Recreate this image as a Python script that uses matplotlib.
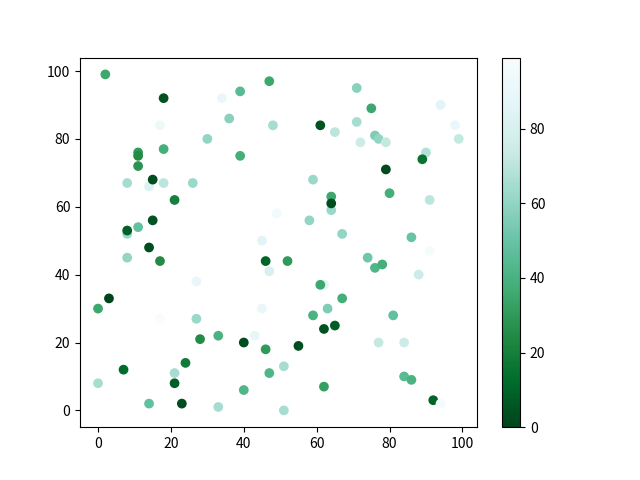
import numpy as np
import matplotlib
matplotlib.use('Agg')
import matplotlib.pyplot as plt

plt.rcParams['font.family'] = ['Noto Sans CJK SC', 'DejaVu Sans']

# point positions and colour values
x = [2, 47, 18, 34, 39, 71, 75, 94, 17, 36,
     48, 61, 71, 65, 98, 99, 30, 11, 11, 11,
     18, 39, 76, 77, 79, 72, 90, 89, 79, 8,
     14, 15, 18, 26, 59, 21, 80, 64, 64, 64,
     91, 8, 8, 11, 15, 49, 58, 67, 86, 8,
     14, 17, 45, 47, 46, 52, 74, 76, 78, 91,
     88, 0, 3, 27, 17, 27, 45, 62, 61, 67,
     28, 33, 43, 40, 46, 59, 63, 65, 62, 55,
     81, 77, 84, 21, 21, 24, 0, 7, 14, 23,
     33, 40, 47, 51, 51, 62, 84, 86, 92, 94]
y = [99, 97, 92, 92, 94, 95, 89, 90, 84, 86,
     84, 84, 85, 82, 84, 80, 80, 76, 75, 72,
     77, 75, 81, 80, 79, 79, 76, 74, 71, 67,
     66, 68, 67, 67, 68, 62, 64, 63, 59, 61,
     62, 52, 53, 54, 56, 58, 56, 52, 51, 45,
     48, 44, 50, 41, 44, 44, 45, 42, 43, 47,
     40, 30, 33, 38, 27, 27, 30, 37, 37, 33,
     21, 22, 22, 20, 18, 28, 30, 25, 24, 19,
     28, 20, 20, 11, 8, 14, 8, 12, 2, 2,
     1, 6, 11, 13, 0, 7, 10, 9, 3, 2]
c = [35, 35, 5, 90, 45, 58, 35, 85, 92, 58,
     65, 5, 65, 70, 90, 72, 60, 30, 25, 28,
     38, 38, 55, 60, 72, 75, 68, 15, 2, 65,
     82, 3, 70, 62, 62, 20, 38, 35, 62, 3,
     70, 62, 8, 48, 5, 95, 60, 60, 50, 60,
     3, 25, 85, 80, 10, 30, 52, 42, 38, 97,
     75, 35, 0, 90, 99, 62, 90, 85, 35, 38,
     25, 40, 88, 3, 30, 40, 55, 8, 5, 3,
     48, 72, 75, 65, 8, 18, 65, 12, 48, 3,
     65, 42, 42, 65, 65, 32, 45, 40, 10, 97]

fig, ax = plt.subplots(figsize=(6.4, 4.8), dpi=100)
sc = ax.scatter(x, y, c=c, cmap='BuGn_r', vmin=0, vmax=99)
fig.colorbar(sc)

fig.savefig('out.png')
